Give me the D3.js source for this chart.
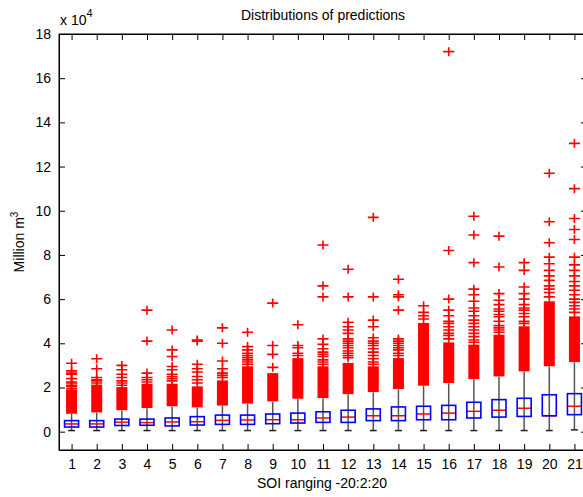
<!DOCTYPE html>
<html>
<head>
<meta charset="utf-8">
<script src="https://cdn.jsdelivr.net/npm/d3@7"></script>
<style>
  body { margin: 0; background: #fff; }
  text { font-family: Arial, "Liberation Sans", sans-serif; }
</style>
</head>
<body>
<svg id="chart" width="583" height="497"></svg>
<script>
// values in units of 1e4 (million m3)
let categories = d3.range(1, 22);
let q1     = [0.21,0.21,0.28,0.29,0.26,0.30,0.33,0.33,0.36,0.39,0.42,0.42,0.50,0.50,0.54,0.54,0.62,0.66,0.69,0.72,0.77];
let median = [0.35,0.35,0.43,0.41,0.44,0.45,0.51,0.53,0.54,0.54,0.62,0.66,0.72,0.72,0.80,0.84,0.92,0.97,1.06,0.72,1.15];
let q3     = [0.50,0.50,0.57,0.57,0.62,0.68,0.75,0.75,0.80,0.84,0.90,0.97,1.03,1.12,1.15,1.19,1.33,1.45,1.51,1.67,1.72];
let lowerWhisker = [0.05,0.05,0.05,0.05,0.05,0.05,0.05,0.05,0.05,0.05,0.05,0.05,0.05,0.05,0.05,0.05,0.05,0.05,0.05,0.05,0.08];
let upperWhisker = [0.80,0.86,0.96,1.06,1.14,1.09,1.17,1.26,1.36,1.48,1.51,1.69,1.78,1.92,2.07,2.19,2.37,2.49,2.72,2.95,3.14];
// dense runs of outliers that merge into a solid block (visible edges)
let denseLo = [0.81,0.87,0.97,1.07,1.15,1.10,1.18,1.27,1.37,1.49,1.52,1.70,1.79,1.93,2.08,2.20,2.38,2.50,2.73,2.96,3.15];
let denseHi = [1.90,2.13,2.02,2.17,2.17,2.05,2.32,2.96,2.65,3.33,2.96,3.11,2.96,3.33,4.92,4.04,3.94,4.39,4.77,5.90,5.22];
let outliers = [
  [1.95,2.05,2.1,2.2,2.25,2.4,2.6,2.65,2.75,3.1],
  [2.2,2.3,2.35,2.45,2.85,3.3],
  [2.1,2.2,2.3,2.45,2.6,2.8,3.0],
  [2.25,2.35,2.45,2.65,4.1,5.5],
  [2.3,2.4,2.5,2.6,2.8,2.95,3.4,3.7,4.6],
  [2.2,2.35,2.5,2.7,2.85,3.05,4.1,4.15],
  [2.45,2.55,2.65,2.85,3.2,4.0,4.7],
  [3.05,3.15,3.25,3.35,3.45,3.55,3.7,3.85,4.5],
  [2.91,3.5,3.9,5.82],
  [3.45,3.55,3.8,3.9,4.84],
  [3.05,3.15,3.25,3.4,3.5,3.6,3.75,3.95,4.2,6.1,6.6,8.45],
  [3.35,3.45,3.55,3.65,3.8,3.9,4.0,4.1,4.2,4.45,4.6,4.75,4.95,6.1,7.35],
  [3.05,3.15,3.3,3.45,3.6,3.75,3.9,4.0,4.1,4.25,4.75,5.05,6.1,9.7],
  [3.45,3.55,3.7,3.8,3.9,4.0,4.1,4.2,5.5,6.1,6.2,6.9],
  [5.1,5.25,5.4,5.7],
  [4.2,4.35,4.45,4.6,4.75,4.9,5.0,5.25,5.5,6.0,8.2,17.2],
  [4.05,4.15,4.3,4.45,4.6,4.75,4.9,5.05,5.25,5.45,5.6,5.9,6.2,6.45,7.65,8.9,9.75],
  [4.5,4.6,4.7,4.8,5.0,5.2,5.3,5.45,5.55,5.75,5.95,6.25,7.45,8.85],
  [4.9,5.0,5.2,5.35,5.5,5.6,5.75,6.0,6.25,6.55,7.3,7.65],
  [6.1,6.3,6.45,6.6,6.85,7.05,7.3,7.6,7.9,8.55,9.5,11.7],
  [5.4,5.55,5.7,5.85,6.0,6.2,6.4,6.6,6.8,7.05,7.3,7.55,7.9,8.7,9.15,9.65,11.0,13.05]
];
let yTicks = d3.range(0, 19, 2);

let svg = d3.select("#chart");
let pLeft = 59, pRight = 587, pTop = 34, pBottom = 450;

let x = d3.scaleLinear().domain([0.5, 21.5]).range([pLeft, pRight]);
let y = d3.scaleLinear().domain([-0.83, 18]).range([pBottom, pTop]);

let boxW = 14, plusW = 11, plusH = 9, capW = 7;

let rows = categories.map(function(c, i) {
    return {c: c, q1: q1[i], med: median[i], q3: q3[i], lo: lowerWhisker[i], hi: upperWhisker[i],
            dLo: denseLo[i], dHi: denseHi[i], out: outliers[i]};
});

let g = svg.append("g");

// whiskers
g.selectAll(".whisker").data(rows).enter().append("line")
    .attr("x1", d => x(d.c)).attr("x2", d => x(d.c))
    .attr("y1", d => y(d.lo)).attr("y2", d => y(d.hi))
    .attr("stroke", "#555").attr("stroke-width", 1.5);
g.selectAll(".cap").data(rows).enter().append("line")
    .attr("x1", d => x(d.c) - capW/2).attr("x2", d => x(d.c) + capW/2)
    .attr("y1", d => y(d.lo)).attr("y2", d => y(d.lo))
    .attr("stroke", "#222").attr("stroke-width", 1.5);

// dense outlier blocks
g.selectAll(".dense").data(rows).enter().append("rect")
    .attr("x", d => x(d.c) - plusW/2)
    .attr("width", plusW)
    .attr("y", d => y(d.dHi))
    .attr("height", d => y(d.dLo) - y(d.dHi))
    .attr("fill", "#ff0000");

// single outliers
rows.forEach(function(d) {
    d.out.forEach(function(v) {
        let cx = x(d.c), cy = y(v);
        g.append("path")
            .attr("d", "M" + (cx - plusW/2) + "," + cy + "H" + (cx + plusW/2) +
                       "M" + cx + "," + (cy - plusH/2) + "V" + (cy + plusH/2))
            .attr("stroke", "#ff0000").attr("stroke-width", 1.6).attr("fill", "none");
    });
});

// median then box
g.selectAll(".median").data(rows).enter().append("line")
    .attr("x1", d => x(d.c) - boxW/2).attr("x2", d => x(d.c) + boxW/2)
    .attr("y1", d => y(d.med)).attr("y2", d => y(d.med))
    .attr("stroke", "#ff0000").attr("stroke-width", 1.5);
g.selectAll(".box").data(rows).enter().append("rect")
    .attr("x", d => x(d.c) - boxW/2).attr("width", boxW)
    .attr("y", d => y(d.q3)).attr("height", d => y(d.q1) - y(d.q3))
    .attr("fill", "none").attr("stroke", "#0000ff").attr("stroke-width", 1.6);

// axes
let axes = svg.append("g");
axes.append("g").attr("transform", "translate(0," + pBottom + ")")
    .call(d3.axisBottom(x).tickValues(categories).tickSizeInner(-6).tickSizeOuter(0).tickPadding(9).tickFormat(d3.format("d")));
axes.append("g").attr("transform", "translate(0," + pTop + ")")
    .call(d3.axisTop(x).tickValues(categories).tickSizeInner(-6).tickSizeOuter(0).tickFormat(""));
axes.append("g").attr("transform", "translate(" + pLeft + ",0)")
    .call(d3.axisLeft(y).tickValues(yTicks).tickSizeInner(-6).tickSizeOuter(0).tickPadding(8));
axes.append("g").attr("transform", "translate(" + pRight + ",0)")
    .call(d3.axisRight(y).tickValues(yTicks).tickSizeInner(-6).tickSizeOuter(0).tickFormat(""));
axes.selectAll("text").attr("font-size", "14px").attr("fill", "#000");
axes.selectAll(".domain").attr("stroke", "#000");
axes.selectAll(".tick line").attr("stroke", "#000");

// frame
svg.append("rect").attr("x", pLeft).attr("y", pTop).attr("width", pRight - pLeft).attr("height", pBottom - pTop)
    .attr("fill", "none").attr("stroke", "#000").attr("stroke-width", 1);

// labels
svg.append("text").attr("x", (pLeft + pRight) / 2).attr("y", 20).attr("text-anchor", "middle")
    .attr("font-size", "14px").text("Distributions of predictions");
svg.append("text").attr("x", 322).attr("y", 488).attr("text-anchor", "middle")
    .attr("font-size", "14px").text("SOI ranging -20:2:20");
let ex = svg.append("text").attr("x", 60).attr("y", 25).attr("font-size", "14px");
ex.append("tspan").text("x 10");
ex.append("tspan").attr("dy", -8).attr("font-size", "11px").text("4");
let yl = svg.append("text").attr("transform", "translate(24," + ((pTop + pBottom) / 2) + ") rotate(-90)")
    .attr("text-anchor", "middle").attr("font-size", "14px");
yl.append("tspan").text("Million m");
yl.append("tspan").attr("dy", -6).attr("font-size", "10px").text("3");
</script>
</body>
</html>
